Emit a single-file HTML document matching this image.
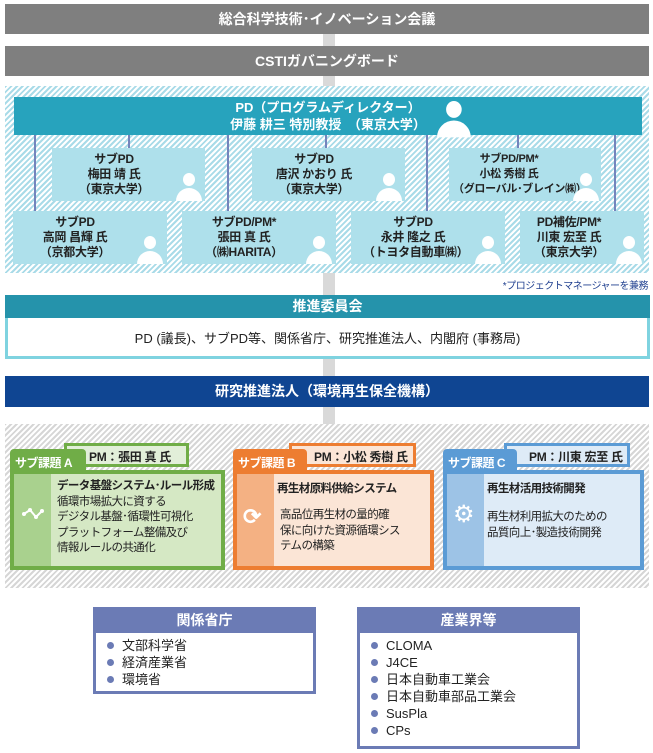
<!DOCTYPE html>
<html><head><meta charset="utf-8"><style>
*{margin:0;padding:0;box-sizing:border-box}
body{width:653px;height:753px;background:#fff;position:relative;overflow:hidden;font-family:"Liberation Sans","Noto Sans CJK JP",sans-serif}
.a{position:absolute}
.bar{position:absolute;color:#fff;font-weight:bold;text-align:center;font-size:14px}
.hb{background:repeating-linear-gradient(-45deg,#fff 0 2px,#a9dbe8 2px 4px)}
.hg{background:repeating-linear-gradient(-45deg,#fff 0 2px,#d6d6d6 2px 4px)}
.sb{position:absolute;background:#aee0eb;color:#222;font-weight:bold;font-size:12px;text-align:center;line-height:15px;padding-top:4px;letter-spacing:-0.3px;white-space:nowrap}
.sb span{display:block;width:100px;margin:0 auto 0 12px}
.vl{position:absolute;width:2px;background:#7484bc}
.p{position:absolute;width:26px;height:28px}
.p:before{content:"";position:absolute;left:7px;top:0;width:12px;height:13px;border-radius:50%;background:#fff}
.p:after{content:"";position:absolute;left:0;top:15px;width:26px;height:13px;border-radius:13px 13px 0 0;background:#fff}
.tab{position:absolute;color:#fff;font-weight:bold;font-size:12px;padding:5px 0 0 5px;border-radius:4px 4px 0 0;white-space:nowrap;letter-spacing:-0.5px}
.pm{position:absolute;font-weight:bold;font-size:12px;padding:2px 0 0 22px;color:#222;border:3px solid;white-space:nowrap;letter-spacing:-0.3px}
.mb{position:absolute;border:4px solid}
.strip{position:absolute;left:0;top:0;bottom:0;width:37px}
.mt{position:absolute;font-size:11.5px;color:#222;line-height:15.5px;white-space:nowrap;letter-spacing:-0.6px}
.lb{position:absolute;border:3px solid #6b7bb5;border-top:none}
.lb .h{background:#6b7bb5;color:#fff;font-weight:bold;font-size:14px;text-align:center;height:26px;line-height:26px}
.lb ul{list-style:none;padding:4px 0 0 10px;font-size:13px;color:#222}
.lb li{height:17px;line-height:17px;position:relative;padding-left:16px;white-space:nowrap}
.lb li:before{content:"";position:absolute;left:1px;top:5px;width:7px;height:7px;border-radius:50%;background:#6b7bb5}
</style></head><body>
<div class="a" style="left:323px;top:30px;width:12px;height:410px;background:#d9d9d9"></div>
<div class="bar" style="left:5px;top:4px;width:644px;height:30px;background:#7f7f7f;line-height:30px">総合科学技術･イノベーション会議</div>
<div class="bar" style="left:5px;top:46px;width:644px;height:30px;background:#7f7f7f;line-height:30px">CSTIガバニングボード</div>

<div class="a hb" style="left:5px;top:86px;width:644px;height:187px"></div>
<div class="vl" style="left:34px;top:134px;height:78px"></div>
<div class="vl" style="left:128px;top:134px;height:15px"></div>
<div class="vl" style="left:227px;top:134px;height:78px"></div>
<div class="vl" style="left:325px;top:134px;height:15px"></div>
<div class="vl" style="left:426px;top:134px;height:78px"></div>
<div class="vl" style="left:517px;top:134px;height:15px"></div>
<div class="vl" style="left:614px;top:134px;height:78px"></div>
<div class="bar" style="left:14px;top:97px;width:628px;height:38px;background:#27a3bd;font-size:13px;line-height:17px;padding-top:2px">PD（プログラムディレクター）<br>伊藤 耕三 特別教授　（東京大学）</div>
<div class="p" style="left:437px;top:101px;transform:scale(1.3);transform-origin:0 0"></div>

<div class="sb" style="left:52px;top:148px;width:153px;height:53px"><span>サブPD<br>梅田 靖 氏<br>（東京大学）</span><div class="p" style="left:124px;top:25px"></div></div>
<div class="sb" style="left:252px;top:148px;width:153px;height:53px"><span>サブPD<br>唐沢 かおり 氏<br>（東京大学）</span><div class="p" style="left:124px;top:25px"></div></div>
<div class="sb" style="left:449px;top:148px;width:152px;height:53px;font-size:11px"><span style="width:112px;margin-left:4px">サブPD/PM*<br>小松 秀樹 氏<br>（グローバル･ブレイン㈱）</span><div class="p" style="left:124px;top:25px"></div></div>
<div class="sb" style="left:13px;top:211px;width:154px;height:53px"><span>サブPD<br>高岡 昌輝 氏<br>（京都大学）</span><div class="p" style="left:124px;top:25px"></div></div>
<div class="sb" style="left:182px;top:211px;width:154px;height:53px"><span>サブPD/PM*<br>張田 真 氏<br>（㈱HARITA）</span><div class="p" style="left:124px;top:25px"></div></div>
<div class="sb" style="left:351px;top:211px;width:154px;height:53px"><span>サブPD<br>永井 隆之 氏<br>（トヨタ自動車㈱）</span><div class="p" style="left:124px;top:25px"></div></div>
<div class="sb" style="left:520px;top:211px;width:124px;height:53px"><span style="width:90px;margin-left:4px">PD補佐/PM*<br>川東 宏至 氏<br>（東京大学）</span><div class="p" style="left:96px;top:25px"></div></div>
<div class="a" style="right:5px;top:277px;font-size:10px;color:#1f3f8f;letter-spacing:-0.5px">*プロジェクトマネージャーを兼務</div>

<div class="a" style="left:5px;top:295px;width:645px;height:64px;border:3px solid #7fd3e0;border-top:none;background:#fff"></div>
<div class="bar" style="left:5px;top:295px;width:645px;height:23px;background:#2593ab;line-height:23px">推進委員会</div>
<div class="a" style="left:5px;top:328px;width:645px;text-align:center;font-size:13px;color:#222">PD (議長)、サブPD等、関係省庁、研究推進法人、内閣府 (事務局)</div>

<div class="bar" style="left:5px;top:376px;width:644px;height:31px;background:#0f4592;line-height:31px">研究推進法人（環境再生保全機構）</div>

<div class="a hg" style="left:5px;top:424px;width:644px;height:164px"></div>

<!-- A -->
<div class="pm" style="left:64px;top:443px;width:125px;height:24px;border-color:#70ad47;background:#e2efd9">PM：張田 真 氏</div>
<div class="tab" style="left:10px;top:449px;width:76px;height:24px;background:#70ad47">サブ課題 A</div>
<div class="mb" style="left:10px;top:470px;width:215px;height:100px;border-color:#70ad47;background:#d5e8c4"><div class="strip" style="background:#a9d18e"></div>
<svg class="a" style="left:8px;top:32px" width="22" height="16"><polyline points="2,8 8,4 14,11 20,5" fill="none" stroke="#fff" stroke-width="2"/><circle cx="2" cy="8" r="2" fill="#fff"/><circle cx="8" cy="4" r="2" fill="#fff"/><circle cx="14" cy="11" r="2" fill="#fff"/><circle cx="20" cy="5" r="2" fill="#fff"/></svg>
<div class="mt" style="left:43px;top:5px"><b>データ基盤システム･ルール形成</b><br>循環市場拡大に資する<br>デジタル基盤･循環性可視化<br>プラットフォーム整備及び<br>情報ルールの共通化</div></div>
<!-- B -->
<div class="pm" style="left:289px;top:443px;width:127px;height:24px;border-color:#ed7d31;background:#fbe5d6">PM：小松 秀樹 氏</div>
<div class="tab" style="left:233px;top:449px;width:74px;height:24px;background:#ed7d31">サブ課題 B</div>
<div class="mb" style="left:233px;top:470px;width:201px;height:100px;border-color:#ed7d31;background:#fbe5d6"><div class="strip" style="background:#f4b183"></div>
<div class="a" style="left:6px;top:30px;color:#fff;font-size:22px;font-weight:bold">⟳</div>
<div class="mt" style="left:40px;top:8px"><b>再生材原料供給システム</b></div>
<div class="mt" style="left:43px;top:34px">高品位再生材の量的確<br>保に向けた資源循環シス<br>テムの構築</div></div>
<!-- C -->
<div class="pm" style="left:504px;top:443px;width:126px;height:24px;border-color:#5b9bd5;background:#deebf7">PM：川東 宏至 氏</div>
<div class="tab" style="left:443px;top:449px;width:74px;height:24px;background:#5b9bd5">サブ課題 C</div>
<div class="mb" style="left:443px;top:470px;width:201px;height:100px;border-color:#5b9bd5;background:#deebf7"><div class="strip" style="background:#9dc3e6"></div>
<div class="a" style="left:6px;top:26px;color:#fff;font-size:24px">⚙</div>
<div class="mt" style="left:40px;top:8px"><b>再生材活用技術開発</b></div>
<div class="mt" style="left:40px;top:36px">再生材利用拡大のための<br>品質向上･製造技術開発</div></div>

<div class="lb" style="left:93px;top:607px;width:223px;height:87px"><div class="h" style="margin:0 -3px">関係省庁</div><ul><li>文部科学省</li><li>経済産業省</li><li>環境省</li></ul></div>
<div class="lb" style="left:357px;top:607px;width:223px;height:142px"><div class="h" style="margin:0 -3px">産業界等</div><ul><li>CLOMA</li><li>J4CE</li><li>日本自動車工業会</li><li>日本自動車部品工業会</li><li>SusPla</li><li>CPs</li></ul></div>
</body></html>
